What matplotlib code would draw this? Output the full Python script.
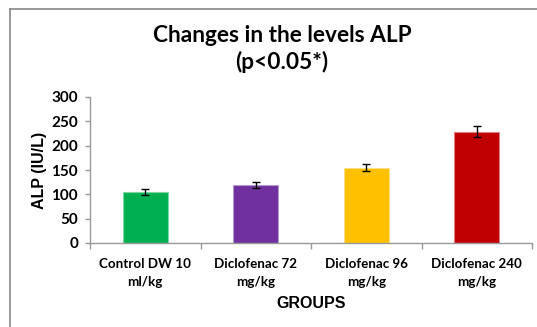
import matplotlib
matplotlib.use("Agg")
import matplotlib.pyplot as plt
from matplotlib.lines import Line2D
import numpy as np

categories = ["Control DW 10\nml/kg", "Diclofenac 72\nmg/kg", "Diclofenac 96\nmg/kg", "Diclofenac 240\nmg/kg"]
values = [105, 120, 155, 229]
errors = [6, 6, 7, 12]
colors = ["#00B050", "#7030A0", "#FFC000", "#C00000"]
edgecolors = ["#7FD7A7", "#B797CF", "#FFDF7F", "#E07F7F"]
yticks = [0, 50, 100, 150, 200, 250, 300]

fig = plt.figure(figsize=(5.37, 3.27), dpi=100)
ax = fig.add_axes([90/537, 84/327, 442/537, 146/327])

x = np.arange(len(categories))
ax.bar(x, values, width=0.41, color=colors, edgecolor=edgecolors, linewidth=0.8, zorder=2)
ax.errorbar(x, values, yerr=errors, fmt="none", ecolor="black", elinewidth=1.0, capsize=3, capthick=1.0, zorder=3)

ax.set_xlim(-0.5, len(categories) - 0.5)
ax.set_ylim(0, 300)
ax.set_yticks(yticks)
ax.set_yticklabels([str(t) for t in yticks], fontsize=11, fontweight="bold", family="Lato")
ax.set_xticks(x)
ax.set_xticklabels(categories, fontsize=9.6, fontweight="bold", family="Lato", linespacing=1.55)
ax.set_xticks(np.arange(-0.5, len(categories), 1.0), minor=True)
ax.tick_params(axis="x", which="major", length=0, pad=11)
ax.tick_params(axis="x", which="minor", length=4, color="#999999", width=1)
ax.tick_params(axis="y", length=3.6, color="#999999", width=1, pad=5)

for s in ["top", "right"]:
    ax.spines[s].set_visible(False)
for s in ["left", "bottom"]:
    ax.spines[s].set_color("#999999")
    ax.spines[s].set_linewidth(1.0)

ax.set_ylabel("ALP (IU/L)", fontsize=11.5, fontweight="bold", family="Liberation Sans")
ax.yaxis.set_label_coords(-(90 - 47) / 442, 0.5)
ax.set_xlabel("GROUPS", fontsize=11.5, fontweight="bold", family="Liberation Sans")
ax.xaxis.set_label_coords(0.5, -(296 - 243) / 146)

fig.text(282/537, 1 - 35/327, "Changes in the levels ALP", ha="center", va="center",
         fontsize=16.3, fontweight="bold", family="Lato")
fig.text(282/537, 1 - 62/327, "(p<0.05*)", ha="center", va="center",
         fontsize=16.3, fontweight="bold", family="Lato")

fig.add_artist(Line2D([9.5/537, 9.5/537], [0, 1 - 8.5/327], color="#888888", linewidth=1.2, transform=fig.transFigure))
fig.add_artist(Line2D([9.5/537, 1], [1 - 8.5/327, 1 - 8.5/327], color="#888888", linewidth=1.2, transform=fig.transFigure))

fig.savefig("out.png", dpi=100)
